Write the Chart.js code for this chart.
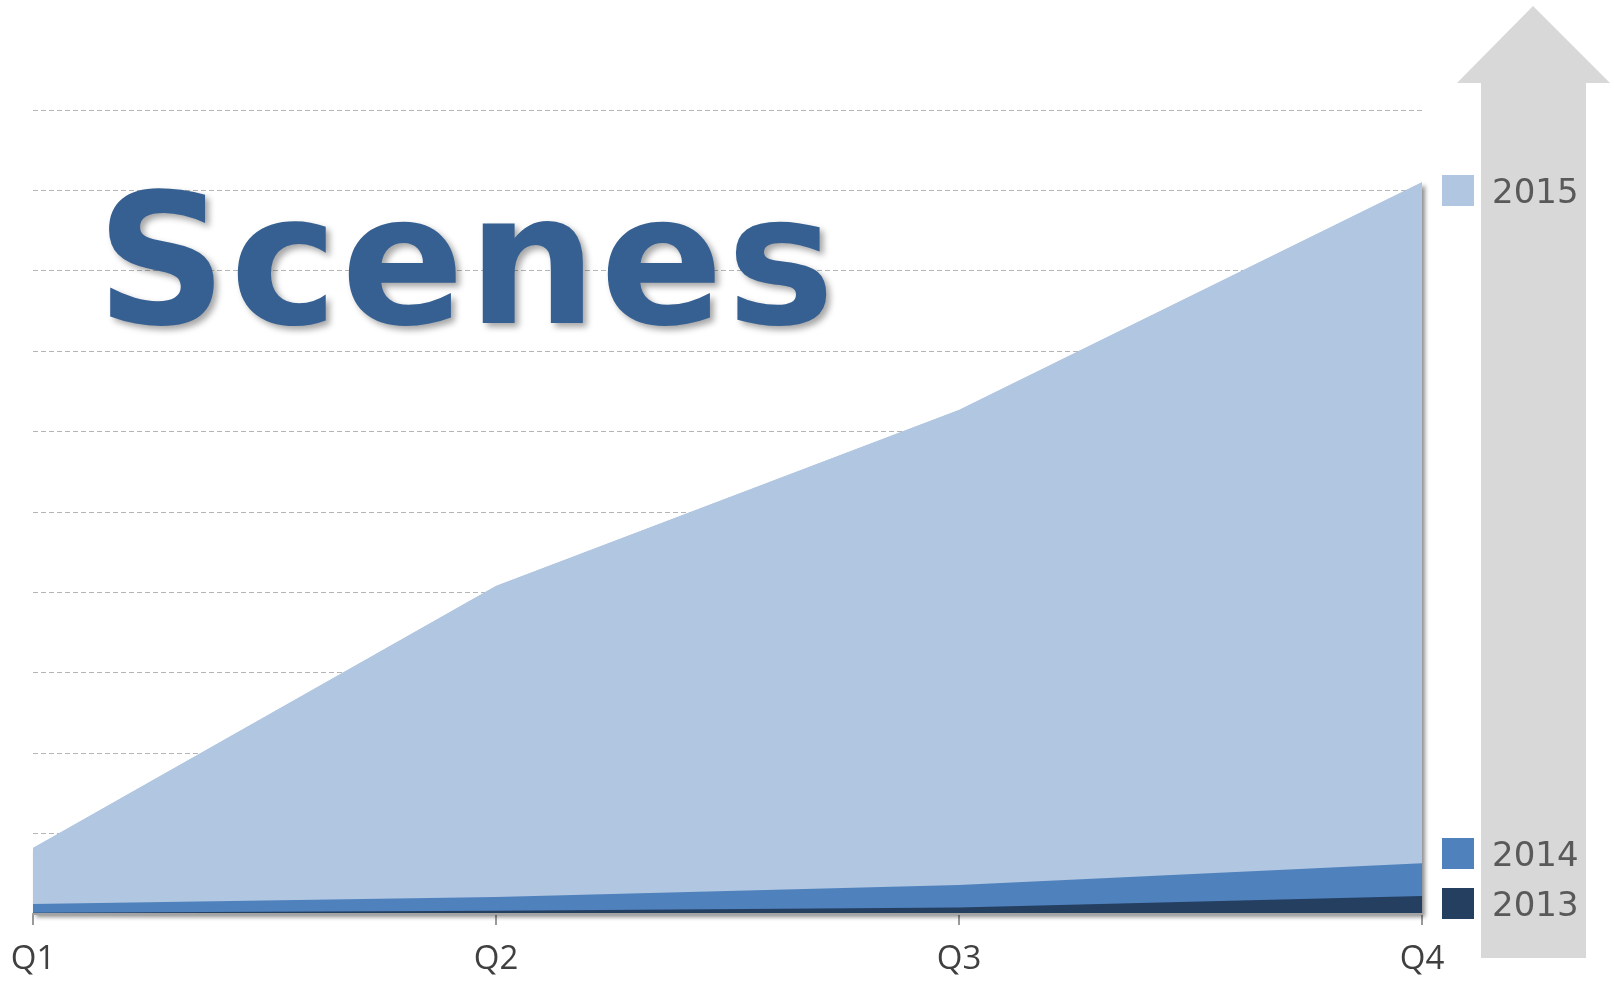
<!DOCTYPE html>
<html>
<head>
<meta charset="utf-8">
<script src="https://cdn.jsdelivr.net/npm/chart.js@4"></script>
<style>
html,body{margin:0;padding:0;background:#fff;overflow:hidden}
canvas{display:block}
</style>
</head>
<body>
<canvas id="c" width="1614" height="981"></canvas>
<script>
// ---- data ----
const categories = ['Q1', 'Q2', 'Q3', 'Q4'];
const seriesNames = ['2013', '2014', '2015'];
const values2013 = [0.15, 0.4, 0.8, 2.25];
const values2014 = [1.1, 1.7, 2.8, 4.05];
const values2015 = [6.95, 38.7, 59.1, 84.7];
const yMin = 0;
const yMax = 100;
const yStep = 10;
const titleText = 'Scenes';

// ---- styles ----
const seriesColors = ['#253f61', '#4f81bd', '#b0c6e1'];
const textGray = '#595959';

const bgPlugin = {
  id: 'bgArrow',
  beforeDraw(chart) {
    const ctx = chart.ctx;
    ctx.save();
    ctx.fillStyle = '#ffffff';
    ctx.fillRect(0, 0, chart.width, chart.height);
    // decorative up arrow behind the legend
    ctx.fillStyle = '#d8d8d8';
    ctx.beginPath();
    ctx.moveTo(1481, 958);
    ctx.lineTo(1481, 83);
    ctx.lineTo(1457, 83);
    ctx.lineTo(1533, 6);
    ctx.lineTo(1610, 83);
    ctx.lineTo(1586, 83);
    ctx.lineTo(1586, 958);
    ctx.closePath();
    ctx.fill();
    ctx.restore();
  }
};

const shadowPlugin = {
  id: 'areaShadow',
  beforeDatasetsDraw(chart) {
    const top = chart.data.datasets.length - 1;
    const meta = chart.getDatasetMeta(top);
    const pts = meta.data;
    if (!pts.length) return;
    const bottom = chart.scales.y.getPixelForValue(0);
    const ctx = chart.ctx;
    ctx.save();
    ctx.beginPath();
    ctx.moveTo(pts[0].x, bottom);
    pts.forEach(p => ctx.lineTo(p.x, p.y));
    ctx.lineTo(pts[pts.length - 1].x, bottom);
    ctx.closePath();
    ctx.shadowColor = 'rgba(0,0,0,0.45)';
    ctx.shadowBlur = 4;
    ctx.shadowOffsetX = 3;
    ctx.shadowOffsetY = 3;
    ctx.fillStyle = seriesColors[top];
    ctx.fill();
    ctx.restore();
  }
};

const legendPlugin = {
  id: 'endLegend',
  afterDraw(chart) {
    const ctx = chart.ctx;
    ctx.save();
    ctx.font = '34px "DejaVu Sans", Verdana, sans-serif';
    ctx.textAlign = 'left';
    ctx.textBaseline = 'alphabetic';
    let prev = Infinity;
    chart.data.datasets.forEach((ds, i) => {
      const meta = chart.getDatasetMeta(i);
      const last = meta.data[meta.data.length - 1];
      let cy = last.y + 8;
      cy = Math.min(cy, prev - 50);
      prev = cy;
      ctx.fillStyle = seriesColors[i];
      ctx.fillRect(1442, Math.round(cy - 15.5), 32, 31);
      ctx.fillStyle = textGray;
      ctx.fillText(ds.label, 1492, cy + 12.5);
    });
    ctx.restore();
  }
};

const titlePlugin = {
  id: 'bigTitle',
  afterDraw(chart) {
    const ctx = chart.ctx;
    ctx.save();
    ctx.font = 'bold 182px "DejaVu Sans", Verdana, sans-serif';
    if ('letterSpacing' in ctx) ctx.letterSpacing = '3px';
    ctx.textAlign = 'left';
    ctx.textBaseline = 'alphabetic';
    ctx.shadowColor = 'rgba(0,0,0,0.35)';
    ctx.shadowBlur = 6;
    ctx.shadowOffsetX = 4;
    ctx.shadowOffsetY = 4;
    ctx.fillStyle = '#366092';
    ctx.fillText(titleText, 96, 323);
    ctx.restore();
  }
};

const seriesValues = [values2013, values2014, values2015];

new Chart(document.getElementById('c'), {
  type: 'line',
  data: {
    labels: categories,
    datasets: seriesNames.map((name, i) => ({
      label: name,
      data: seriesValues[i],
      backgroundColor: seriesColors[i],
      borderColor: seriesColors[i],
      borderWidth: 0,
      pointRadius: 0,
      pointHoverRadius: 0,
      tension: 0,
      fill: 'origin'
    }))
  },
  options: {
    responsive: false,
    devicePixelRatio: 1,
    animation: false,
    events: [],
    layout: { padding: { left: 33, right: 192, top: 110, bottom: 0 } },
    plugins: {
      legend: { display: false },
      tooltip: { enabled: false },
      title: { display: false }
    },
    scales: {
      x: {
        type: 'category',
        offset: false,
        afterFit(scale) {
          scale.height = 67;
          scale.paddingLeft = 0;
          scale.paddingRight = 0;
        },
        grid: {
          drawOnChartArea: false,
          drawTicks: true,
          tickLength: 11,
          color: '#9a9a9a',
          lineWidth: 2
        },
        border: { display: true, color: '#a3a3a3', width: 2, z: 1 },
        ticks: {
          color: '#404040',
          font: { family: '"Open Sans", sans-serif', size: 33 },
          padding: 15,
          maxRotation: 0,
          autoSkip: false
        }
      },
      y: {
        stacked: true,
        min: yMin,
        max: yMax,
        ticks: { display: false, stepSize: yStep },
        grid: { drawTicks: false, color: '#b5b5b5', lineWidth: 1 },
        border: { display: false, dash: [5, 3] }
      }
    }
  },
  plugins: [bgPlugin, shadowPlugin, legendPlugin, titlePlugin]
});
</script>
</body>
</html>
